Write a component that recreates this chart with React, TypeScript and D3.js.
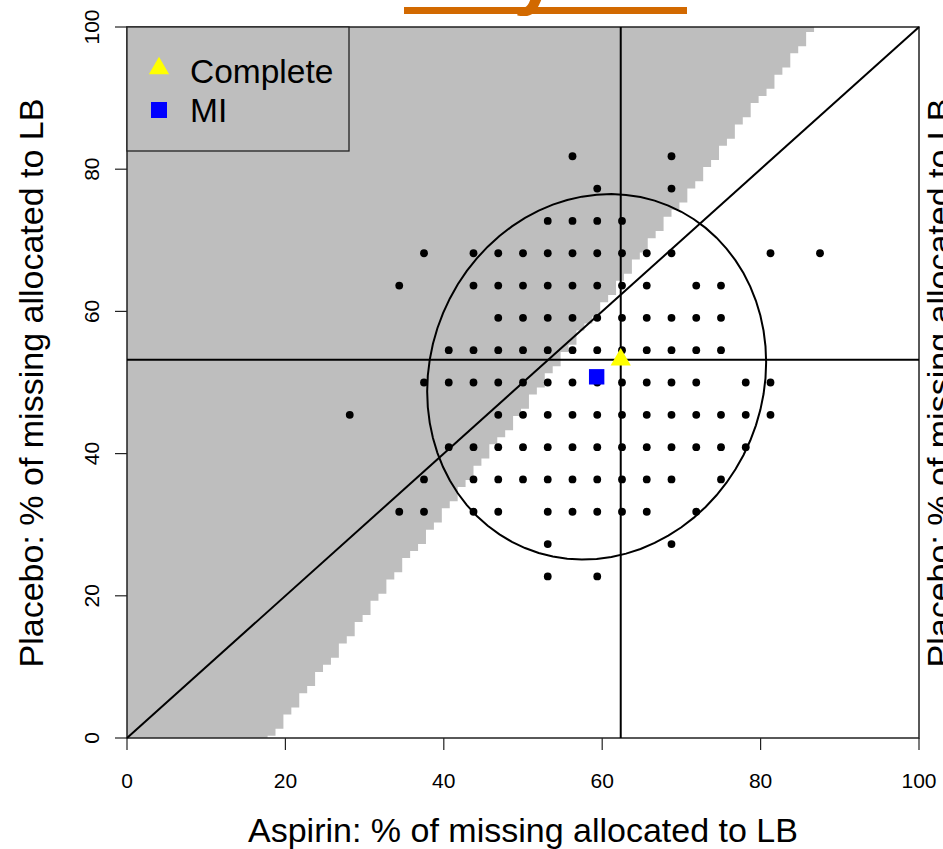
import React from "react";
import * as d3 from "d3";

const W = 943;
const H = 849;

// Number of missing outcomes in each arm
const aspirinMissing = 32;
const placeboMissing = 22;

// Each allocation evaluated: placebo missing allocated to LB (row) and
// the aspirin counts that appear on that row
const placeboCounts = [5, 6, 7, 8, 9, 10, 11, 12, 13, 14, 15, 16, 17, 18];
const aspirinCountsByRow = [
  [17, 19],
  [17, 22],
  [11, 12, 14, 15, 17, 18, 19, 20, 21, 23],
  [12, 14, 15, 16, 17, 18, 19, 20, 21, 22, 24],
  [13, 14, 15, 16, 17, 18, 19, 20, 21, 22, 23, 24, 25],
  [9, 15, 16, 17, 18, 19, 20, 21, 22, 23, 24, 25, 26],
  [12, 13, 14, 15, 16, 17, 18, 19, 20, 21, 22, 23, 25, 26],
  [13, 14, 15, 16, 17, 18, 19, 20, 21, 22, 23, 24],
  [15, 16, 17, 18, 19, 20, 21, 22, 23, 24],
  [11, 14, 15, 16, 17, 18, 19, 20, 21, 23, 24],
  [12, 14, 15, 16, 17, 18, 19, 20, 21, 22, 26, 28],
  [17, 18, 19, 20],
  [19, 22],
  [18, 22],
];

// Summary estimates (% of missing allocated to LB)
const completePoint = [62.34, 53.2];
const miPoint = [59.3, 50.8];
const miSpread = [21.4, 25.7];
const miCorrelation = 0.08;

// Edge of the shaded (non-significant) region: [placebo %, aspirin %]
const shadeEdge = [
  [0.8, 18.75],
  [99.8, 86.75],
];

const xTicks = [0, 20, 40, 60, 80, 100];
const yTicks = [0, 20, 40, 60, 80, 100];
const legendLabels = ["Complete", "MI"];

const FONT = "'Liberation Sans', Arial, Helvetica, sans-serif";
const SHADE = "#BEBEBE";

export default function App() {
  const x = d3.scaleLinear().domain([0, 100]).range([127, 919]);
  const y = d3.scaleLinear().domain([0, 100]).range([738, 27]);

  // Staircase outline of the shaded region, one 1% cell per row
  const edgeAt = d3
    .scaleLinear()
    .domain(shadeEdge.map((d) => d[0]))
    .range(shadeEdge.map((d) => d[1]));
  const stairs: [number, number][] = [[0, 0]];
  for (let r = 0; r <= 100; r++) {
    const lo = Math.max(0, r - 0.7);
    const hi = Math.min(100, r + 0.3);
    if (hi <= lo) continue;
    const b = edgeAt(r - 0.2);
    const k = Math.ceil(b - 0.25) - 1;
    const e = Math.min(100, k + 0.75);
    stairs.push([e, lo], [e, hi]);
  }
  stairs.push([0, 100]);
  const shadePath =
    d3
      .line<[number, number]>()
      .x((d) => x(d[0]))
      .y((d) => y(d[1]))(stairs) + "Z";

  // Dots for each evaluated allocation
  const dots: { ax: number; py: number }[] = [];
  placeboCounts.forEach((j, i) => {
    aspirinCountsByRow[i].forEach((k) => {
      dots.push({ ax: (k / aspirinMissing) * 100, py: (j / placeboMissing) * 100 });
    });
  });

  // Confidence ellipse around the MI estimate
  const steps = d3.range(0, 72);
  const ellipsePts: [number, number][] = steps.map((s) => {
    const t = (s / 72) * Math.PI * 2;
    const ex = miPoint[0] + miSpread[0] * Math.cos(t);
    const ey =
      miPoint[1] +
      miSpread[1] *
        (miCorrelation * Math.cos(t) + Math.sqrt(1 - miCorrelation ** 2) * Math.sin(t));
    return [x(ex), y(ey)];
  });
  const ellipsePath = d3.line().curve(d3.curveLinearClosed)(ellipsePts) || "";

  const tri = (cx: number, cy: number, r: number) =>
    `M${cx},${cy - r}L${cx + r * 0.866},${cy + r / 2}L${cx - r * 0.866},${cy + r / 2}Z`;

  const yTitle = "Placebo: % of missing allocated to LB";

  return (
    <div style={{ position: "absolute", left: 0, top: 0 }}>
      <svg width={W} height={H} style={{ display: "block", background: "#fff" }}>
        {/* heading above the panel */}
        <text
          x={340}
          y={-1}
          fill="#D26900"
          fontFamily={FONT}
          fontWeight="bold"
          fontSize={80}
        >
          Analysis
        </text>
        <rect x={404} y={7} width={283} height={7} fill="#D26900" />

        <path d={shadePath} fill={SHADE} stroke="none" />

        {/* plot frame */}
        <rect
          x={x(0)}
          y={y(100)}
          width={x(100) - x(0)}
          height={y(0) - y(100)}
          fill="none"
          stroke="#222"
          strokeWidth={1.5}
        />

        {/* axes */}
        <g fontFamily={FONT} fontSize={21} fill="#000">
          {xTicks.map((t) => (
            <g key={"x" + t}>
              <line x1={x(t)} x2={x(t)} y1={y(0)} y2={y(0) + 12} stroke="#222" strokeWidth={1.2} />
              <text x={x(t)} y={788} textAnchor="middle">
                {t}
              </text>
            </g>
          ))}
          {yTicks.map((t) => (
            <g key={"y" + t}>
              <line x1={x(0) - 12} x2={x(0)} y1={y(t)} y2={y(t)} stroke="#222" strokeWidth={1.2} />
              <text transform={`translate(99,${y(t)}) rotate(-90)`} textAnchor="middle">
                {t}
              </text>
            </g>
          ))}
        </g>
        <text x={523} y={842} textAnchor="middle" fontFamily={FONT} fontSize={34}>
          Aspirin: % of missing allocated to LB
        </text>
        <text
          transform={`translate(43,383) rotate(-90)`}
          textAnchor="middle"
          fontFamily={FONT}
          fontSize={34}
        >
          {yTitle}
        </text>
        {/* neighbouring panel's axis title */}
        <text
          transform={`translate(951,383) rotate(-90)`}
          textAnchor="middle"
          fontFamily={FONT}
          fontSize={34}
        >
          {yTitle}
        </text>

        {/* allocations */}
        <g fill="#000">
          {dots.map((d, i) => (
            <circle key={i} cx={x(d.ax)} cy={y(d.py)} r={3.9} />
          ))}
        </g>

        {/* reference lines */}
        <line x1={x(0)} y1={y(0)} x2={x(100)} y2={y(100)} stroke="#000" strokeWidth={2} />
        <line
          x1={x(completePoint[0])}
          x2={x(completePoint[0])}
          y1={y(0)}
          y2={y(100)}
          stroke="#000"
          strokeWidth={2}
        />
        <line
          x1={x(0)}
          x2={x(100)}
          y1={y(completePoint[1])}
          y2={y(completePoint[1])}
          stroke="#000"
          strokeWidth={2}
        />
        <path d={ellipsePath} fill="none" stroke="#000" strokeWidth={2} />

        {/* estimates */}
        <path d={tri(x(completePoint[0]), y(completePoint[1]), 11.7)} fill="#FFFF00" />
        <rect
          x={x(miPoint[0]) - 7.7}
          y={y(miPoint[1]) - 7.7}
          width={15.4}
          height={15.4}
          fill="#0000FF"
        />

        {/* legend */}
        <rect x={127} y={27} width={222} height={124} fill={SHADE} stroke="#222" strokeWidth={1.3} />
        <path d={tri(159, 68.4, 11.7)} fill="#FFFF00" />
        <rect x={151} y={102} width={16} height={16} fill="#0000FF" />
        <g fontFamily={FONT} fontSize={33.5} fill="#000">
          <text x={190} y={83.3}>
            {legendLabels[0]}
          </text>
          <text x={190} y={122.3}>
            {legendLabels[1]}
          </text>
        </g>
      </svg>
    </div>
  );
}
